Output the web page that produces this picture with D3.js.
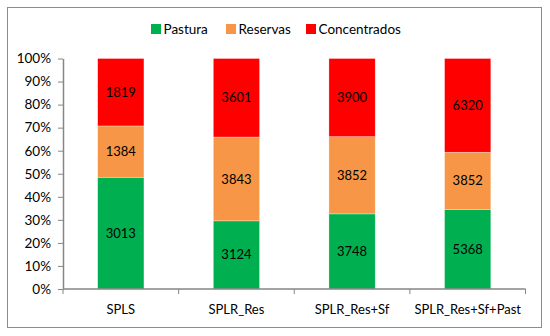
<!DOCTYPE html>
<html><head><meta charset="utf-8">
<script src="https://cdn.jsdelivr.net/npm/d3@7"></script>
<style>body{margin:0;background:#fff}text{font-family:Lato,"Open Sans",sans-serif}</style>
</head><body><svg id="c" width="550" height="336"></svg>
<script>
const categories = ["SPLS","SPLR_Res","SPLR_Res+Sf","SPLR_Res+Sf+Past"];
const seriesNames = ["Pastura","Reservas","Concentrados"];
const pastura = [3013,3124,3748,5368];
const reservas = [1384,3843,3852,3852];
const concentrados = [1819,3601,3900,6320];
const yTicks = [0,0.1,0.2,0.3,0.4,0.5,0.6,0.7,0.8,0.9,1];
const colors = ["#00B050","#F79646","#FF0000"];

const rows = categories.map((c,i)=>({cat:c,Pastura:pastura[i],Reservas:reservas[i],Concentrados:concentrados[i]}));
const stack = d3.stack().keys(seriesNames).offset(d3.stackOffsetExpand);
const layers = stack(rows);

const svg = d3.select("#c");
svg.append("rect").attr("x",7.5).attr("y",7.5).attr("width",534).attr("height",320)
  .attr("fill","#fff").attr("stroke","#8c8c8c").attr("stroke-width",1);

const x = d3.scaleBand().domain(categories).range([63,525.5]).paddingInner(0.6).paddingOuter(0.3);
const y = d3.scaleLinear().domain([0,1]).range([289,58.5]);

const g = svg.append("g");
layers.forEach((L,k)=>{
  g.selectAll(null).data(L).enter().append("rect")
    .attr("x",d=>x(d.data.cat)).attr("width",x.bandwidth())
    .attr("y",d=>y(d[1])).attr("height",d=>y(d[0])-y(d[1]))
    .attr("fill",colors[k]).attr("stroke","rgba(255,255,255,0.5)").attr("stroke-width",0.6);
  g.selectAll(null).data(L).enter().append("text")
    .attr("x",d=>x(d.data.cat)+x.bandwidth()/2)
    .attr("y",d=>(y(d[0])+y(d[1]))/2)
    .attr("dy","0.35em").attr("text-anchor","middle")
    .attr("font-size",13).attr("fill","#000")
    .text(d=>d.data[L.key]);
});

// y axis
const yAxis = d3.axisLeft(y).tickValues(yTicks).tickFormat(d3.format(".0%")).tickSize(5).tickSizeOuter(0);
const ya = svg.append("g").attr("transform","translate(63,0)").call(yAxis);
ya.select(".domain").attr("stroke","#868686").attr("stroke-width",1.5);
ya.selectAll(".tick line").attr("stroke","#868686");
ya.selectAll("text").attr("font-size",13.5).attr("fill","#000").attr("x",-12);

// x axis
const xa = svg.append("g").attr("transform","translate(0,289)");
xa.append("line").attr("x1",63).attr("x2",525.5).attr("stroke","#868686").attr("stroke-width",1.5);
const step = x.step();
const bounds = d3.range(categories.length+1).map(i=>63+step*i);
xa.selectAll(null).data(bounds).enter().append("line")
  .attr("x1",d=>d).attr("x2",d=>d).attr("y1",0).attr("y2",5).attr("stroke","#868686");
xa.selectAll(null).data(categories).enter().append("text")
  .attr("x",d=>x(d)+x.bandwidth()/2).attr("y",25).attr("text-anchor","middle")
  .attr("font-size",13).attr("fill","#000").text(d=>d);

// legend
const legX = [151,226,306];
const lg = svg.append("g");
seriesNames.forEach((n,i)=>{
  lg.append("rect").attr("x",legX[i]).attr("y",24).attr("width",10).attr("height",10).attr("fill",colors[i]);
  lg.append("text").attr("x",legX[i]+12.5).attr("y",29).attr("dy","0.35em").attr("font-size",13.5).attr("fill","#000").text(n);
});
</script></body></html>
